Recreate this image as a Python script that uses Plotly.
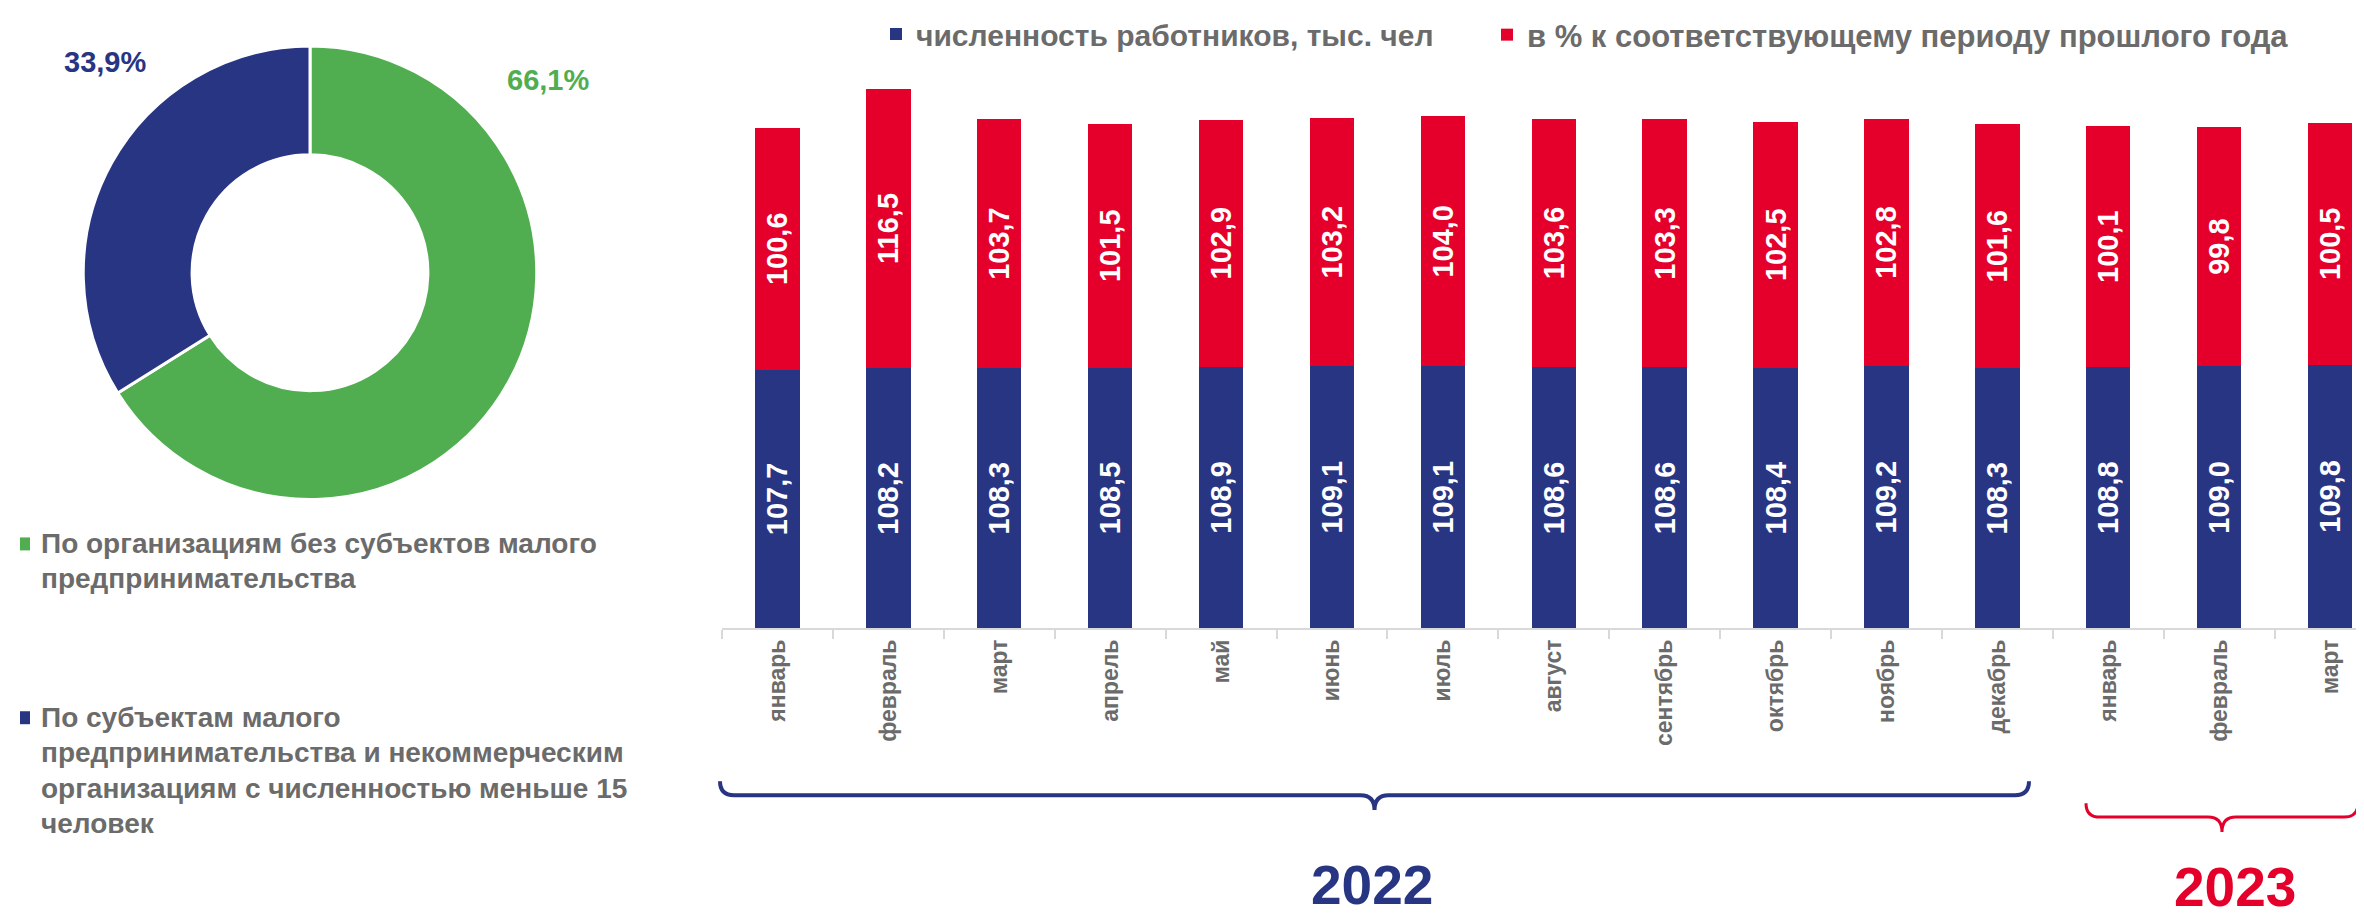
import plotly.graph_objects as go

# ---------------- data ----------------
months = ["январь", "февраль", "март", "апрель", "май", "июнь", "июль", "август",
          "сентябрь", "октябрь", "ноябрь", "декабрь", "январь", "февраль", "март"]
workers = [107.7, 108.2, 108.3, 108.5, 108.9, 109.1, 109.1, 108.6,
           108.6, 108.4, 109.2, 108.3, 108.8, 109.0, 109.8]
pct_prev_year = [100.6, 116.5, 103.7, 101.5, 102.9, 103.2, 104.0, 103.6,
                 103.3, 102.5, 102.8, 101.6, 100.1, 99.8, 100.5]
series_names = ["численность работников, тыс. чел",
                "в % к соответствующему периоду прошлого года"]

share_labels = ["По организациям без субъектов малого<br>предпринимательства",
                "По субъектам малого<br>предпринимательства и некоммерческим<br>организациям с численностью меньше 15<br>человек"]
share_values = [66.1, 33.9]

years = ["2022", "2023"]

# ---------------- style ----------------
W, H = 2364, 915
BLUE = "#283583"
RED = "#e4002b"
GREEN = "#50ae50"
GRAY = "#6b6b6b"
AXIS = "#d9d9d9"
FONT = "Liberation Sans, Arial, sans-serif"


def px(x):
    return x / W


def py(y):
    return 1 - y / H


def fmt(v):
    return f"{v:.1f}".replace(".", ",")


x_idx = list(range(len(months)))

# plot area geometry (pixels)
X0 = 714.0
CAT = 110.9
Y_ZERO = 620.0
Y_TOP = 60.0
PX_PER_UNIT = 2.405
y_max = (Y_ZERO - Y_TOP) / PX_PER_UNIT
x_max = -0.5 + (W - X0) / CAT

fig = go.Figure()

fig.add_trace(go.Pie(
    values=share_values, labels=[l.replace("<br>", " ") for l in share_labels],
    sort=False, direction="clockwise", rotation=0, hole=0.52,
    marker=dict(colors=[GREEN, BLUE], line=dict(color="white", width=3)),
    textinfo="none", hoverinfo="label+percent", showlegend=False,
    domain=dict(x=[px(75), px(529)], y=[py(491), py(37)]),
))

bar_font = dict(family=FONT, size=29, color="white", weight="bold")
fig.add_trace(go.Bar(
    x=x_idx, y=workers, name=series_names[0], marker_color=BLUE,
    marker_line_width=0, width=0.4,
    text=[fmt(v) for v in workers], textposition="inside",
    insidetextanchor="middle", textangle=-90, constraintext="none",
    textfont=bar_font, legend="legend",
))
fig.add_trace(go.Bar(
    x=x_idx, y=pct_prev_year, name=series_names[1], marker_color=RED,
    marker_line_width=0, width=0.4,
    text=[fmt(v) for v in pct_prev_year], textposition="inside",
    insidetextanchor="middle", textangle=-90, constraintext="none",
    textfont=bar_font, legend="legend2",
))

annotations = []
shapes = []

# donut percentage labels
annotations.append(dict(x=px(97), y=py(53), xref="paper", yref="paper",
                        xanchor="center", yanchor="middle",
                        text=fmt(share_values[1]) + "%", showarrow=False,
                        font=dict(family=FONT, size=29, color=BLUE, weight="bold")))
annotations.append(dict(x=px(540), y=py(71), xref="paper", yref="paper",
                        xanchor="center", yanchor="middle",
                        text=fmt(share_values[0]) + "%", showarrow=False,
                        font=dict(family=FONT, size=29, color=GREEN, weight="bold")))

# donut legend (one annotation per text line for exact spacing)
leg_first_line = [535, 709]
leg_colors = [GREEN, BLUE]
LINE = 35.5
for lbl, y0, col in zip(share_labels, leg_first_line, leg_colors):
    for i, line in enumerate(lbl.split("<br>")):
        annotations.append(dict(x=px(31), y=py(y0 + i * LINE), xref="paper", yref="paper",
                                xanchor="left", yanchor="middle", align="left",
                                text=line, showarrow=False,
                                font=dict(family=FONT, size=28, color=GRAY, weight="bold")))
    shapes.append(dict(type="rect", xref="paper", yref="paper",
                       x0=px(12), x1=px(22), y0=py(y0 - 6), y1=py(y0 + 7),
                       fillcolor=col, line=dict(width=0)))


# braces
def brace(x_left, x_right, y_line, rise, drop, color, width):
    xm = (x_left + x_right) / 2
    r = 14
    pts = (
        f"M {px(x_left)},{py(y_line - rise)} "
        f"Q {px(x_left)},{py(y_line)} {px(x_left + r)},{py(y_line)} "
        f"L {px(xm - r)},{py(y_line)} "
        f"Q {px(xm)},{py(y_line)} {px(xm)},{py(y_line + drop)} "
        f"Q {px(xm)},{py(y_line)} {px(xm + r)},{py(y_line)} "
        f"L {px(x_right - r)},{py(y_line)} "
        f"Q {px(x_right)},{py(y_line)} {px(x_right)},{py(y_line - rise)}"
    )
    return dict(type="path", xref="paper", yref="paper", path=pts,
                line=dict(color=color, width=width))


shapes.append(brace(712, 2021, 787, 14, 15, BLUE, 4))
shapes.append(brace(2078, 2350, 809, 14, 15, RED, 3))

year_cols = [BLUE, RED]
year_pos = [(1364, 877), (2227, 879)]
for yr, col, (xx, yy) in zip(years, year_cols, year_pos):
    annotations.append(dict(x=px(xx), y=py(yy), xref="paper", yref="paper",
                            xanchor="center", yanchor="middle",
                            text=yr, showarrow=False,
                            font=dict(family=FONT, size=55, color=col, weight="bold")))

legend_font = dict(family=FONT, size=30, color=GRAY, weight="bold")
fig.update_layout(
    width=W, height=H,
    margin=dict(l=0, r=0, t=0, b=0),
    paper_bgcolor="white", plot_bgcolor="white",
    barmode="stack",
    showlegend=True,
    legend=dict(orientation="h", x=px(868), y=py(26), xanchor="left", yanchor="middle",
                font=legend_font, itemwidth=30, bgcolor="rgba(0,0,0,0)"),
    legend2=dict(orientation="h", x=px(1479), y=py(26), xanchor="left", yanchor="middle",
                 font=dict(family=FONT, size=31, color=GRAY, weight="bold"),
                 itemwidth=30, bgcolor="rgba(0,0,0,0)"),
    xaxis=dict(domain=[px(X0), 1.0], range=[-0.5, x_max],
               tickmode="array", tickvals=x_idx, ticktext=months,
               tickangle=-90, ticks="",
               tickfont=dict(family=FONT, size=23, color=GRAY, weight="bold"),
               showline=True, linecolor=AXIS, linewidth=2,
               showgrid=False, zeroline=False,
               minor=dict(ticks="outside", tick0=-0.5, dtick=1, ticklen=9,
                          tickcolor=AXIS, tickwidth=2, showgrid=False)),
    yaxis=dict(domain=[py(Y_ZERO), py(Y_TOP)], range=[0, y_max],
               visible=False, showgrid=False, zeroline=False),
    annotations=annotations,
    shapes=shapes,
)

fig.write_html("out.html")
